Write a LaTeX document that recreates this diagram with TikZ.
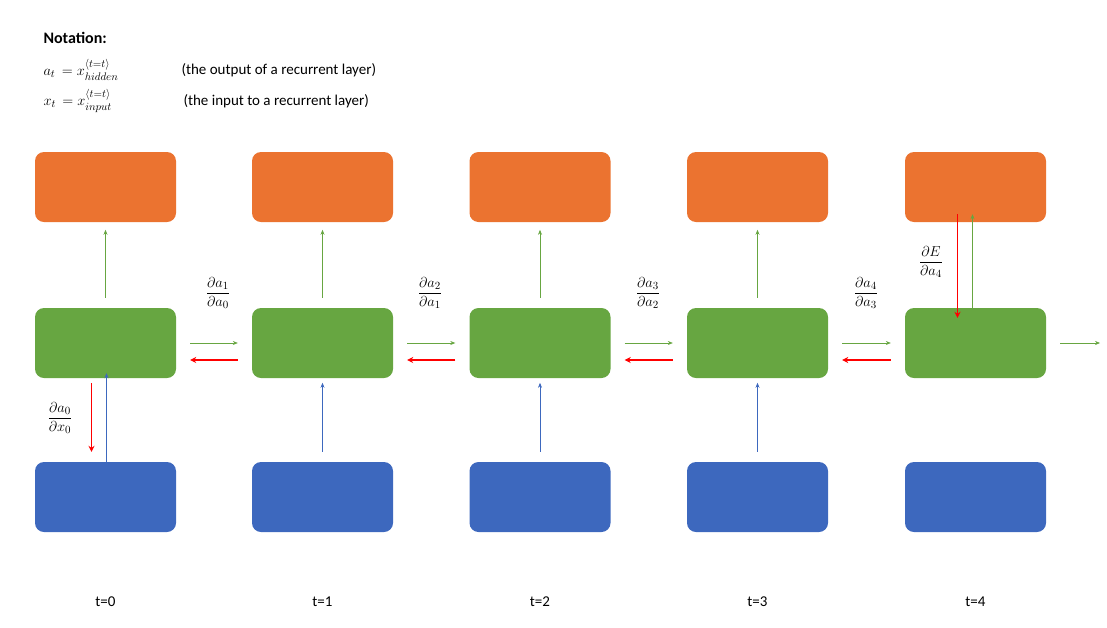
\documentclass[tikz,border=0pt]{standalone}
\usepackage{amsmath}
\usepackage{fontspec}
\setmainfont{Carlito}
\usetikzlibrary{arrows.meta}
\definecolor{oor}{HTML}{EB7330}
\definecolor{ogr}{HTML}{67A641}
\definecolor{obl}{HTML}{3D68BE}
\begin{document}
\begin{tikzpicture}[x=1pt,y=-1pt,
 box/.style={rounded corners=9pt,minimum width=141pt,minimum height=70pt,inner sep=0pt,draw=none},
 garr/.style={draw=ogr,line width=0.6pt,-{Stealth[length=5pt,width=4pt]}},
 barr/.style={draw=obl,line width=0.6pt,-{Stealth[length=5pt,width=4pt]}},
 rarr/.style={draw=red,line width=1.6pt,-{Stealth[length=6pt,width=6pt]}},
 lab/.style={font=\fontsize{15}{18}\selectfont},
 frac/.style={font=\fontsize{15}{18}\selectfont,inner sep=0pt}]
\useasboundingbox (0,0) rectangle (1107,627);
\node[anchor=west,font=\fontsize{16}{19}\selectfont\bfseries] (n0) at (40,38) {Notation:};
\node[anchor=west,lab] (n1) at (40,70) {$a_t\,=x_{hidden}^{\langle t=t\rangle}$};
\node[anchor=west,lab] (n1t) at (178,70) {(the output of a recurrent layer)};
\node[anchor=west,lab] (n2) at (40,101) {$x_t\,=x_{input}^{\langle t=t\rangle}$};
\node[anchor=west,lab] (n2t) at (180,101) {(the input to a recurrent layer)};
\foreach \i/\x in {0/105.5,1/322.5,2/540,3/757.5,4/975.5}{
 \node[box,fill=oor] (o\i) at (\x,187) {};
 \node[box,fill=ogr] (g\i) at (\x,343) {};
 \node[box,fill=obl] (b\i) at (\x,497) {};
 \node[lab] (t\i) at (\x,602) {t=\i};
}
\foreach \i in {1,2,3}{
 \draw[barr] (b\i.north) ++(0,-10) -- ++(0,-69);
}
\foreach \i in {0,1,2,3}{
 \draw[garr] (g\i.north) ++(0,-10) -- ++(0,-68);
}
\draw[barr] ([xshift=1pt,yshift=-10pt]b0.north) -- ([xshift=1pt,yshift=5pt]g0.south);
\draw[rarr] ([xshift=-14pt,yshift=-5pt]g0.south) -- ([xshift=-14pt,yshift=10pt]b0.north);
\draw[garr] ([xshift=-3pt,yshift=-10pt]g4.north) -- ([xshift=-3pt,yshift=8pt]o4.south);
\draw[rarr] ([xshift=-18pt,yshift=8pt]o4.south) -- ([xshift=-18pt,yshift=-10pt]g4.north);
\foreach \a/\b in {0/1,1/2,2/3,3/4}{
 \draw[garr] ([xshift=14pt]g\a.east) -- ([xshift=-14pt]g\b.west);
 \draw[rarr] ([xshift=-14pt,yshift=-17pt]g\b.west) -- ([xshift=14pt,yshift=-17pt]g\a.east);
}
\coordinate (end) at (1100,343);
\draw[garr] ([xshift=14pt]g4.east) -- (end);
\node[frac] (f1) at (218,293) {$\dfrac{\partial a_1}{\partial a_0}$};
\node[frac] (f2) at (430,293) {$\dfrac{\partial a_2}{\partial a_1}$};
\node[frac] (f3) at (648,293) {$\dfrac{\partial a_3}{\partial a_2}$};
\node[frac] (f4) at (866,293) {$\dfrac{\partial a_4}{\partial a_3}$};
\node[frac] (f5) at (931,262) {$\dfrac{\partial E}{\partial a_4}$};
\node[frac] (f0) at (60,418) {$\dfrac{\partial a_0}{\partial x_0}$};
\end{tikzpicture}
\end{document}
